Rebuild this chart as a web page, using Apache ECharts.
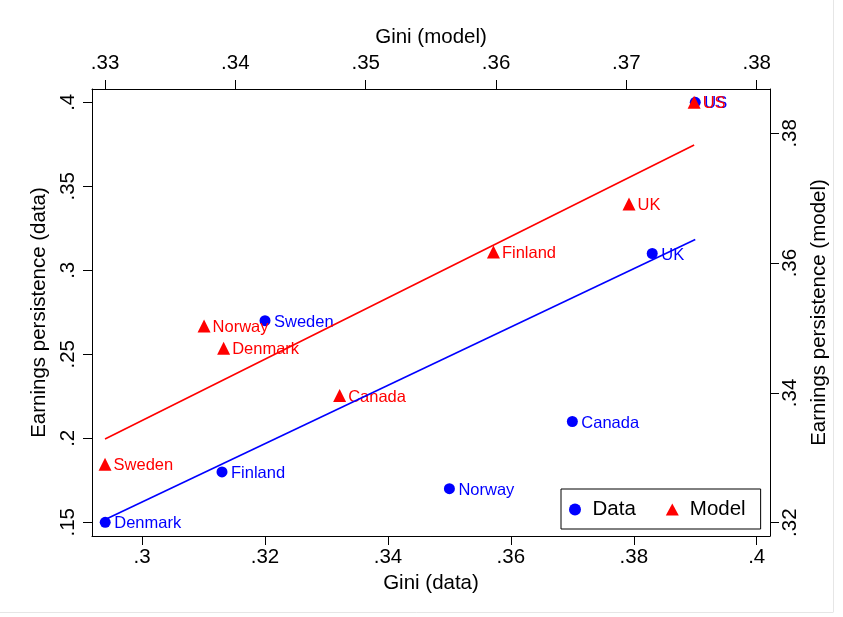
<!DOCTYPE html>
<html>
<head>
<meta charset="utf-8">
<script src="https://cdn.jsdelivr.net/npm/echarts@6/dist/echarts.min.js"></script>
<style>
html,body{margin:0;padding:0;background:#fff;}
#chart{width:843px;height:617px;}
</style>
</head>
<body>
<div id="chart"></div>
<script>
// ---- data ----
const countries    = ['Denmark', 'Finland', 'Sweden', 'Norway', 'Canada', 'UK', 'US'];
const giniData     = [0.294, 0.313, 0.320, 0.350, 0.370, 0.383, 0.390];
const persistData  = [0.150, 0.180, 0.270, 0.170, 0.210, 0.310, 0.400];
const giniModel    = [0.3391, 0.3598, 0.3300, 0.3376, 0.3480, 0.3702, 0.3752];
const persistModel = [0.3469, 0.3617, 0.3290, 0.3503, 0.3396, 0.3691, 0.3848];
// fitted-line end points
const fitDataX  = [0.294, 0.390];
const fitDataY  = [0.1517, 0.3183];
const fitModelX = [0.330, 0.3752];
const fitModelY = [0.3329, 0.3782];
// tick labels
const xDataTicks  = [0.30, 0.32, 0.34, 0.36, 0.38, 0.40];
const xModelTicks = [0.33, 0.34, 0.35, 0.36, 0.37, 0.38];
const yDataTicks  = [0.15, 0.20, 0.25, 0.30, 0.35, 0.40];
const yModelTicks = [0.32, 0.34, 0.36, 0.38];

const FONT = "'Liberation Sans', Arial, Helvetica, sans-serif";
const fmt = v => String(+v.toFixed(4)).replace(/^0\./, '.');

const dataPts  = countries.map((c, i) => ({ name: c, value: [giniData[i], persistData[i]] }));
const modelPts = countries.map((c, i) => ({ name: c, value: [giniModel[i], persistModel[i]] }));
const fitD = fitDataX.map((x, i) => [x, fitDataY[i]]);
const fitM = fitModelX.map((x, i) => [x, fitModelY[i]]);

const axisCommon = {
  type: 'value',
  scale: true,
  splitLine: { show: false },
  axisLine: { show: true, onZero: false, lineStyle: { color: '#000', width: 1 } },
  axisTick: { show: true, inside: false, length: 9, lineStyle: { color: '#000', width: 1 } },
  nameTextStyle: { fontFamily: FONT, fontSize: 20.5, color: '#000' },
  nameLocation: 'middle'
};
function lbl(extra) {
  return Object.assign({ fontFamily: FONT, fontSize: 20.5, color: '#000', formatter: fmt, showMinLabel: true, showMaxLabel: true }, extra);
}

const chart = echarts.init(document.getElementById('chart'), null, { renderer: 'canvas' });
chart.setOption({
  animation: false,
  backgroundColor: '#fff',
  grid: { left: 92, right: 73, top: 89, bottom: 81, containLabel: false },
  xAxis: [
    Object.assign({}, axisCommon, {
      position: 'bottom', min: 0.29185, max: 0.40216,
      name: 'Gini (data)', nameGap: 29,
      axisTick: Object.assign({}, axisCommon.axisTick, { customValues: xDataTicks }),
      axisLabel: lbl({ margin: 11, customValues: xDataTicks })
    }),
    Object.assign({}, axisCommon, {
      position: 'top', min: 0.32900, max: 0.38102,
      name: 'Gini (model)', nameGap: 38,
      axisTick: Object.assign({}, axisCommon.axisTick, { customValues: xModelTicks }),
      axisLabel: lbl({ margin: 15, customValues: xModelTicks })
    })
  ],
  yAxis: [
    Object.assign({}, axisCommon, {
      position: 'left', min: 0.14185, max: 0.40792,
      name: 'Earnings persistence (data)', nameGap: 32, nameRotate: 90,
      axisTick: Object.assign({}, axisCommon.axisTick, { customValues: yDataTicks }),
      axisLabel: lbl({ margin: 13, rotate: 90, customValues: yDataTicks })
    }),
    Object.assign({}, axisCommon, {
      position: 'right', min: 0.31795, max: 0.38683,
      name: 'Earnings persistence (model)', nameGap: 31, nameRotate: 90,
      axisTick: Object.assign({}, axisCommon.axisTick, { customValues: yModelTicks }),
      axisLabel: lbl({ margin: 10, rotate: 90, customValues: yModelTicks })
    })
  ],
  legend: {
    left: 561, top: 489,
    orient: 'horizontal',
    data: [{ name: 'Data', icon: 'circle' }, { name: 'Model', icon: 'triangle' }],
    itemWidth: 13, itemHeight: 12, itemGap: 30,
    padding: [10, 15, 9, 8],
    borderColor: '#000', borderWidth: 1, borderRadius: 0,
    backgroundColor: '#fff',
    textStyle: { fontFamily: FONT, fontSize: 20.5, color: '#000', padding: [0, 0, 0, 6] },
    selectedMode: false
  },
  series: [
    {
      name: 'Data', type: 'scatter', xAxisIndex: 0, yAxisIndex: 0,
      symbol: 'circle', symbolSize: 11,
      itemStyle: { color: '#0000ff', opacity: 1 },
      label: { show: true, position: 'right', distance: 3.5, offset: [0, 1.5], formatter: '{b}',
               fontFamily: FONT, fontSize: 16.5, color: '#0000ff' },
      emphasis: { disabled: true },
      data: dataPts, z: 2
    },
    {
      name: 'Model', type: 'scatter', xAxisIndex: 1, yAxisIndex: 1,
      symbol: 'triangle', symbolSize: 13,
      itemStyle: { color: '#ff0000', opacity: 1 },
      label: { show: true, position: 'right', distance: 2, offset: [0, 1.5], formatter: '{b}',
               fontFamily: FONT, fontSize: 16.5, color: '#ff0000' },
      emphasis: { disabled: true },
      data: modelPts, z: 3
    },
    {
      name: 'fitData', type: 'line', xAxisIndex: 0, yAxisIndex: 0,
      showSymbol: false, symbol: 'none', silent: true,
      lineStyle: { color: '#0000ff', width: 1.6 },
      data: fitD, z: 4
    },
    {
      name: 'fitModel', type: 'line', xAxisIndex: 1, yAxisIndex: 1,
      showSymbol: false, symbol: 'none', silent: true,
      lineStyle: { color: '#ff0000', width: 1.6 },
      data: fitM, z: 5
    }
  ],
  graphic: [
    { type: 'line', shape: { x1: 833.5, y1: 0, x2: 833.5, y2: 612 }, style: { stroke: '#e6e6e6', lineWidth: 1 }, silent: true },
    { type: 'line', shape: { x1: 0, y1: 612.5, x2: 833.5, y2: 612.5 }, style: { stroke: '#e6e6e6', lineWidth: 1 }, silent: true }
  ]
});
</script>
</body>
</html>
